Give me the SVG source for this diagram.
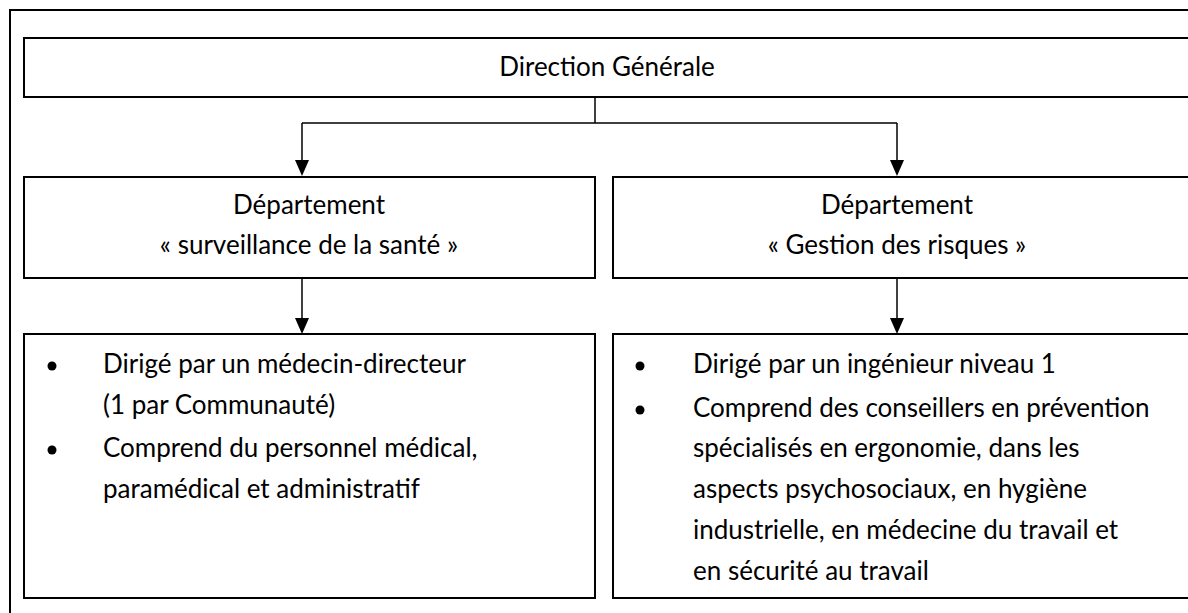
<svg xmlns="http://www.w3.org/2000/svg" width="1188" height="613" viewBox="0 0 1188 613">
<style>
.frame{fill:none;stroke:#000;stroke-width:2}
.box{fill:#fff;stroke:#000;stroke-width:2}
.con{fill:none;stroke:#000;stroke-width:1.5}
text{font-family:Lato,"Open Sans","Liberation Sans",sans-serif;font-size:26px;fill:#000}
.c{text-anchor:middle}
.dot{fill:#000}
</style>
<rect width="1188" height="613" fill="#fff"/>
<rect class="frame" x="10" y="10" width="1190" height="620"/>
<g id="connectors">
<path class="con" d="M595,97 V123 M302,123 H897"/>
<path class="con" d="M302,123 V160"/>
<path class="con" d="M897,123 V160"/>
<path d="M295,160 L309,160 L302,176 Z M890,160 L904,160 L897,176 Z" fill="#000"/>
<path class="con" d="M302,278 V318"/>
<path class="con" d="M897,278 V318"/>
<path d="M295,318 L309,318 L302,334 Z M890,318 L904,318 L897,334 Z" fill="#000"/>
</g>
<g id="direction">
<rect class="box" x="24" y="38" width="1170" height="59"/>
<text class="c" x="607" y="76">Direction Générale</text>
</g>
<g id="dept-sante">
<rect class="box" x="24" y="177" width="571" height="101"/>
<text class="c" x="309" y="214">Département</text>
<text class="c" x="309" y="254">« surveillance de la santé »</text>
</g>
<g id="dept-risques">
<rect class="box" x="613" y="177" width="581" height="101"/>
<text class="c" x="897" y="214">Département</text>
<text class="c" x="897" y="254">« Gestion des risques »</text>
</g>
<g id="details-sante">
<rect class="box" x="24" y="334" width="571" height="264"/>
<circle class="dot" cx="52" cy="366" r="4.5"/>
<circle class="dot" cx="52" cy="450" r="4.5"/>
<text x="103" y="373">Dirigé par un médecin-directeur</text>
<text x="103" y="414">(1 par Communauté)</text>
<text x="103" y="457"> Comprend du personnel médical,</text>
<text x="103" y="498">paramédical et administratif</text>
</g>
<g id="details-risques">
<rect class="box" x="613" y="334" width="581" height="264"/>
<circle class="dot" cx="640" cy="366" r="4.5"/>
<circle class="dot" cx="640" cy="410" r="4.5"/>
<text x="693" y="373">Dirigé par un ingénieur niveau 1</text>
<text x="693" y="417">Comprend des conseillers en prévention</text>
<text x="693" y="457">spécialisés en ergonomie, dans les</text>
<text x="693" y="498">aspects psychosociaux, en hygiène</text>
<text x="693" y="539">industrielle, en médecine du travail et</text>
<text x="693" y="580">en sécurité au travail</text>
</g>
</svg>
